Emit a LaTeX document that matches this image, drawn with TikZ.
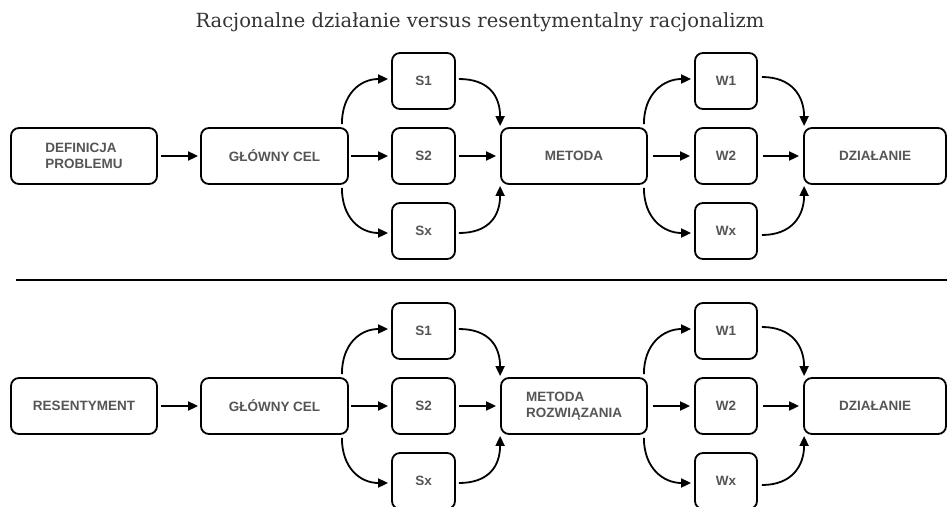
\documentclass[tikz,border=0pt]{standalone}
\usepackage{fontspec}
\newfontfamily\boxfont{Liberation Sans}
\newfontfamily\titlefont{DejaVu Serif}
\usetikzlibrary{arrows.meta}
\definecolor{txt}{HTML}{555555}
\tikzset{
  box/.style={draw, line width=1.8pt, rounded corners=8pt, inner sep=0pt,
    minimum height=56pt, align=left, text=txt,
    font=\boxfont\bfseries\fontsize{13.5}{16.5}\selectfont},
  bigbox/.style={box, minimum width=146pt},
  smallbox/.style={box, minimum width=63pt},
  arr/.style={line width=1.8pt, -{Triangle[length=10pt,width=9pt]}},
  sepline/.style={line width=1.6pt},
}
\newcommand\mkrow[4]{%
  \node[bigbox] (a#1) at (84,{156+#2}) {#3};
  \node[bigbox, minimum width=147pt] (g#1) at (274.5,{156+#2}) {GŁÓWNY CEL};
  \node[smallbox] (sa#1) at (423.5,{81+#2}) {S1};
  \node[smallbox] (sb#1) at (423.5,{156+#2}) {S2};
  \node[smallbox] (sc#1) at (423.5,{231+#2}) {Sx};
  \node[bigbox] (m#1) at (574,{156+#2}) {#4};
  \node[smallbox, minimum width=62pt] (wa#1) at (726,{81+#2}) {W1};
  \node[smallbox, minimum width=62pt] (wb#1) at (726,{156+#2}) {W2};
  \node[smallbox, minimum width=62pt] (wc#1) at (726,{231+#2}) {Wx};
  \node[box, minimum width=142pt] (d#1) at (875,{156+#2}) {DZIAŁANIE};
  % straight arrows
  \draw[arr] ([xshift=3pt]a#1.east) -- ([xshift=-2pt]g#1.west);
  \draw[arr] ([xshift=2pt]g#1.east) -- ([xshift=-3pt]sb#1.west);
  \draw[arr] ([xshift=3pt]sb#1.east) -- ([xshift=-4pt]m#1.west);
  \draw[arr] ([xshift=5pt]m#1.east) -- ([xshift=-4pt]wb#1.west);
  \draw[arr] ([xshift=5pt]wb#1.east) -- ([xshift=-4pt]d#1.west);
  % curved arrows: goal -> S1 / Sx
  \draw[arr] ([xshift=-7pt,yshift=3pt]g#1.north east) .. controls +(0,-30) and +(-28,0) .. ([xshift=-3pt,yshift=2pt]sa#1.west);
  \draw[arr] ([xshift=-7pt,yshift=-3pt]g#1.south east) .. controls +(0,30) and +(-28,0) .. ([xshift=-3pt,yshift=-2pt]sc#1.west);
  % S1 / Sx -> method
  \draw[arr] ([xshift=3pt,yshift=2pt]sa#1.east) .. controls +(30,0) and +(0,-30) .. ([yshift=1pt]m#1.north west);
  \draw[arr] ([xshift=3pt,yshift=-2pt]sc#1.east) .. controls +(30,0) and +(0,30) .. ([yshift=-1pt]m#1.south west);
  % method -> W1 / Wx
  \draw[arr] ([xshift=-4pt,yshift=3pt]m#1.north east) .. controls +(0,-30) and +(-28,0) .. ([xshift=-3pt,yshift=2pt]wa#1.west);
  \draw[arr] ([xshift=-4pt,yshift=-3pt]m#1.south east) .. controls +(0,30) and +(-28,0) .. ([xshift=-3pt,yshift=-2pt]wc#1.west);
  % W1 / Wx -> action
  \draw[arr] ([xshift=4pt,yshift=4pt]wa#1.east) .. controls +(30,0) and +(0,-30) .. ([xshift=1pt,yshift=1pt]d#1.north west);
  \draw[arr] ([xshift=4pt,yshift=-4pt]wc#1.east) .. controls +(30,0) and +(0,30) .. ([xshift=1pt,yshift=-1pt]d#1.south west);
}
\begin{document}
\begin{tikzpicture}[x=1pt,y=-1pt]
\useasboundingbox (0,0) rectangle (947,506);
\node[text=black!80, font=\titlefont\fontsize{19.5}{23}\selectfont] (title) at (480,22) {Racjonalne działanie versus resentymentalny racjonalizm};
\mkrow{t}{0}{DEFINICJA\\PROBLEMU}{METODA}
\coordinate (l1) at (16,280);
\coordinate (l2) at (947,280);
\draw[sepline] (l1) -- (l2);
\mkrow{b}{250}{RESENTYMENT}{METODA\\ROZWIĄZANIA}
\end{tikzpicture}
\end{document}
